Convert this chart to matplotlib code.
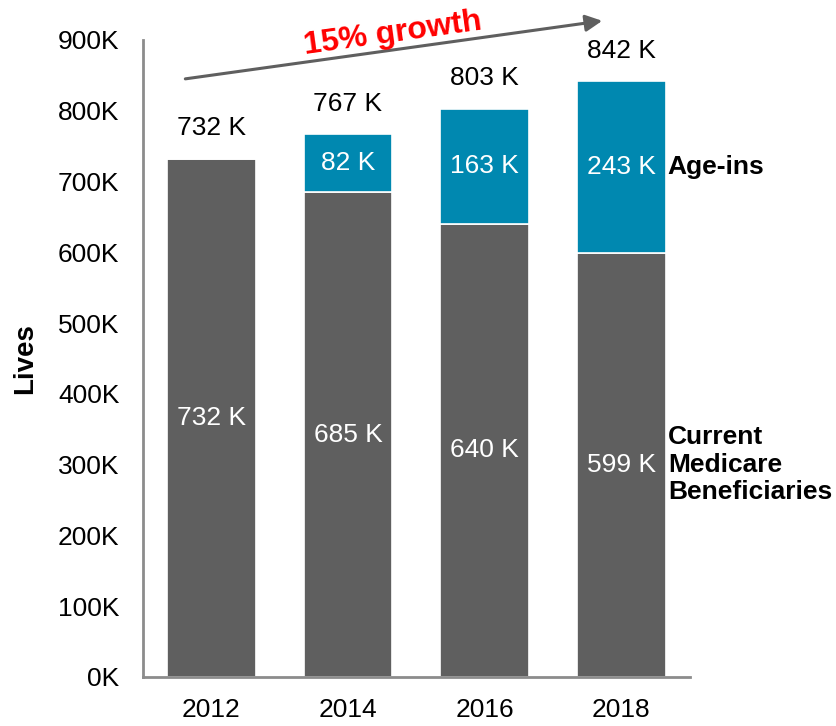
import matplotlib.pyplot as plt
import numpy as np

plt.rcParams['font.family'] = ['Liberation Sans', 'DejaVu Sans']

# Lives by year (thousands)
years = ['2012', '2014', '2016', '2018']
current_benef = [732, 685, 640, 599]
age_ins = [0, 82, 163, 243]
totals = [732, 767, 803, 842]
y_ticks = [0, 100, 200, 300, 400, 500, 600, 700, 800, 900]

dark = '#5f5f5f'
blue = '#0088b0'

fig = plt.figure(figsize=(8.36, 7.26), dpi=100)
ax = fig.add_axes([0.171, 0.0675, 0.654, 0.8775])

x = np.arange(len(years))
cur = np.array(current_benef) * 1000
ins = np.array(age_ins) * 1000
ax.bar(x, cur, width=0.65, color=dark, edgecolor='white', linewidth=1.2)
ax.bar(x, ins, width=0.65, bottom=cur, color=blue, edgecolor='white', linewidth=1.2)

# segment labels
for i in range(len(years)):
    ax.text(x[i], cur[i] / 2, f'{current_benef[i]} K', color='white',
            ha='center', va='center', fontsize=19)
    if age_ins[i] > 0:
        ax.text(x[i], cur[i] + ins[i] / 2, f'{age_ins[i]} K', color='white',
                ha='center', va='center', fontsize=19)
    ax.text(x[i], totals[i] * 1000 + 43000, f'{totals[i]} K', color='black',
            ha='center', va='center', fontsize=19)

# series names on the right
ax.text(3.34, 720000, 'Age-ins', fontsize=19, fontweight='bold',
        ha='left', va='center')
ax.text(3.34, 300000, 'Current\nMedicare\nBeneficiaries', fontsize=19,
        fontweight='bold', ha='left', va='center', linespacing=1.17)

# growth arrow
ax.annotate('', xy=(2.86, 927000), xytext=(-0.19, 845000),
            arrowprops=dict(arrowstyle='-|>', color=dark, lw=2.2,
                            mutation_scale=25, shrinkA=0, shrinkB=0),
            annotation_clip=False)
ax.text(1.33, 908000, '15% growth', color='#ff0000', fontsize=23,
        fontweight='bold', ha='center', va='center', rotation=7.9,
        clip_on=False)

ax.set_xlim(-0.5, 3.5)
ax.set_ylim(0, 900000)
ax.set_xticks(x)
ax.set_xticklabels(years, fontsize=19)
ax.set_yticks([v * 1000 for v in y_ticks])
ax.set_yticklabels([f'{v}K' for v in y_ticks], fontsize=19)
ax.tick_params(axis='both', length=0)
ax.tick_params(axis='y', pad=17)
ax.tick_params(axis='x', pad=15)
ax.set_ylabel('Lives', fontsize=20, fontweight='bold', labelpad=14)

for s in ['top', 'right']:
    ax.spines[s].set_visible(False)
for s in ['left', 'bottom']:
    ax.spines[s].set_color('#8c8c8c')
    ax.spines[s].set_linewidth(2)

fig.savefig('out.png', dpi=100)
